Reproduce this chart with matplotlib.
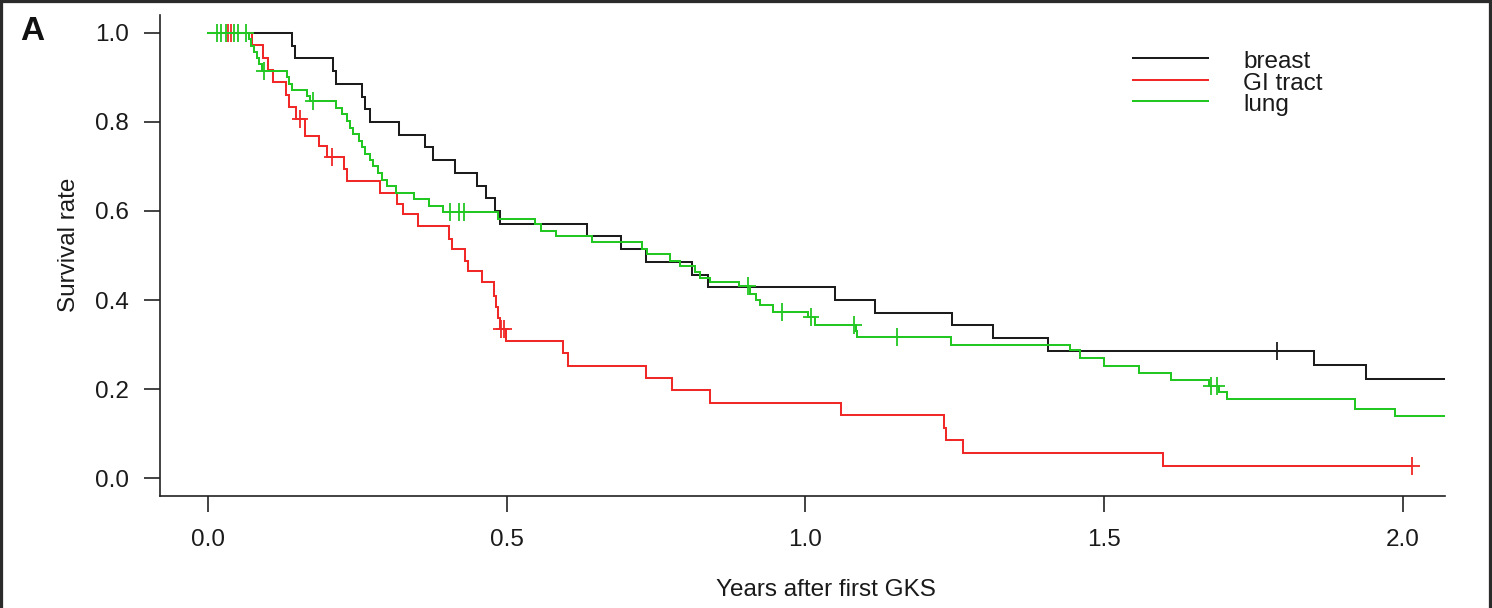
import numpy as np
import matplotlib
matplotlib.use("Agg")
import matplotlib.pyplot as plt
from matplotlib.path import Path
from matplotlib.lines import Line2D

# ---------------- data ----------------
groups = ["breast", "GI tract", "lung"]
colors = ["#1c1c1c", "#f02828", "#22c722"]

breast_times = [0.140, 0.146, 0.210, 0.215, 0.257, 0.263, 0.271, 0.319, 0.363, 0.377,
                0.413, 0.450, 0.466, 0.480, 0.489, 0.634, 0.692, 0.733, 0.810, 0.837,
                1.049, 1.116, 1.246, 1.313, 1.406, 1.851, 1.938]
breast_surv = [0.971, 0.943, 0.914, 0.886, 0.857, 0.829, 0.800, 0.771, 0.743, 0.714,
               0.686, 0.657, 0.629, 0.600, 0.571, 0.543, 0.514, 0.486, 0.457, 0.429,
               0.400, 0.371, 0.343, 0.314, 0.286, 0.254, 0.222]
breast_censor = [1.789]
breast_end = 2.08

gi_times = [0.073, 0.092, 0.100, 0.108, 0.130, 0.135, 0.147, 0.162, 0.185, 0.199,
            0.228, 0.232, 0.288, 0.316, 0.327, 0.352, 0.404, 0.408, 0.430, 0.436,
            0.458, 0.479, 0.482, 0.485, 0.488, 0.499, 0.595, 0.603, 0.733, 0.777,
            0.840, 1.060, 1.231, 1.236, 1.264, 1.598]
gi_surv = [0.972, 0.944, 0.917, 0.889, 0.861, 0.833, 0.806, 0.768, 0.745, 0.722,
           0.694, 0.667, 0.641, 0.615, 0.593, 0.567, 0.537, 0.515, 0.488, 0.466,
           0.440, 0.410, 0.385, 0.360, 0.336, 0.308, 0.280, 0.253, 0.225, 0.198,
           0.169, 0.142, 0.112, 0.086, 0.056, 0.028]
gi_censor = [0.034, 0.038, 0.154, 0.207, 0.490, 0.495, 2.015]
gi_end = 2.015

lung_times = [0.068, 0.072, 0.077, 0.082, 0.086, 0.090, 0.132, 0.135, 0.140, 0.165,
              0.170, 0.215, 0.224, 0.232, 0.238, 0.243, 0.252, 0.257, 0.263, 0.271,
              0.277, 0.285, 0.291, 0.299, 0.315, 0.345, 0.370, 0.394, 0.486, 0.547,
              0.557, 0.583, 0.642, 0.726, 0.735, 0.773, 0.790, 0.815, 0.823, 0.840,
              0.888, 0.907, 0.918, 0.924, 0.946, 1.005, 1.016, 1.084, 1.086, 1.243,
              1.443, 1.459, 1.500, 1.558, 1.611, 1.675, 1.692, 1.705, 1.919, 1.987]
lung_surv = [0.986, 0.971, 0.957, 0.943, 0.929, 0.914, 0.900, 0.886, 0.872, 0.858,
             0.846, 0.831, 0.817, 0.802, 0.787, 0.773, 0.758, 0.744, 0.729, 0.714,
             0.700, 0.685, 0.670, 0.656, 0.641, 0.626, 0.612, 0.597, 0.583, 0.570,
             0.555, 0.543, 0.530, 0.515, 0.503, 0.488, 0.477, 0.462, 0.450, 0.440,
             0.431, 0.414, 0.401, 0.388, 0.374, 0.362, 0.345, 0.331, 0.317, 0.300,
             0.287, 0.270, 0.253, 0.237, 0.221, 0.208, 0.193, 0.178, 0.156, 0.139]
lung_censor = [0.015, 0.022, 0.030, 0.044, 0.050, 0.063, 0.093, 0.176, 0.405, 0.420,
               0.428, 0.904, 0.960, 1.010, 1.082, 1.153, 1.679, 1.688]
lung_end = 2.08

x_ticks = [0.0, 0.5, 1.0, 1.5, 2.0]
x_ticklabels = ["0.0", "0.5", "1.0", "1.5", "2.0"]
y_ticks = [0.0, 0.2, 0.4, 0.6, 0.8, 1.0]
y_ticklabels = ["0.0", "0.2", "0.4", "0.6", "0.8", "1.0"]
x_label = "Years after first GKS"
y_label = "Survival rate"
panel_label = "A"

# ---------------- figure ----------------
plt.rcParams["font.family"] = ["Liberation Sans", "DejaVu Sans"]
FS = 17.5
W, H = 1492, 608
fig = plt.figure(figsize=(W / 100, H / 100), dpi=100)
fig.patch.set_facecolor("white")

ax_l, ax_r, ax_b, ax_t = 160, 1445, 496, 15
ax = fig.add_axes([ax_l / W, 1 - ax_b / H, (ax_r - ax_l) / W, (ax_b - ax_t) / H])

cross = Path([(-0.44, 0), (0.44, 0), (0, -0.5), (0, 0.5)],
             [Path.MOVETO, Path.LINETO, Path.MOVETO, Path.LINETO])

series = [
    (breast_times, breast_surv, breast_censor, breast_end),
    (gi_times, gi_surv, gi_censor, gi_end),
    (lung_times, lung_surv, lung_censor, lung_end),
]
for (times, surv, cens, tend), col in zip(series, colors):
    t = np.concatenate([[0.0], times, [tend]])
    s = np.concatenate([[1.0], surv, [surv[-1]]])
    ax.step(t, s, where="post", color=col, lw=1.45, solid_joinstyle="miter")
    lev = np.concatenate([[1.0], surv])
    idx = np.searchsorted(np.asarray(times), np.asarray(cens), side="right")
    ax.plot(cens, lev[idx], linestyle="none", marker=cross, markersize=12.5,
            markeredgewidth=1.3, color=col)

ax.set_xlim(-0.0803, 2.0703)
ax.set_ylim(-0.04, 1.04)
ax.set_xticks(x_ticks)
ax.set_xticklabels(x_ticklabels)
ax.set_yticks(y_ticks)
ax.set_yticklabels(y_ticklabels)
for sp in ["top", "right"]:
    ax.spines[sp].set_visible(False)
for sp in ["left", "bottom"]:
    ax.spines[sp].set_linewidth(1.2)
    ax.spines[sp].set_color("#222222")
ax.tick_params(axis="both", direction="out", length=11.5, width=1.2,
               color="#222222", labelsize=FS, labelcolor="#1a1a1a")
ax.tick_params(axis="x", pad=12)
ax.tick_params(axis="y", pad=11)
ax.patch.set_alpha(0)

# axis labels
fig.text(826 / W, 1 - 590 / H, x_label, ha="center", va="center", fontsize=FS, color="#1a1a1a")
fig.text(69 / W, 1 - 245 / H, y_label, ha="center", va="center", rotation=90,
         fontsize=FS, color="#1a1a1a")
fig.text(20 / W, 1 - 40 / H, panel_label, ha="left", va="baseline", fontsize=24,
         fontweight="bold", color="#111111")

# legend
leg_y = [58, 80, 101]
for g, col, yy in zip(groups, colors, leg_y):
    fig.add_artist(Line2D([1133 / W, 1208 / W], [1 - yy / H, 1 - yy / H],
                          transform=fig.transFigure, color=col, lw=1.45))
    fig.text(1243 / W, 1 - (yy + 10) / H, g, ha="left", va="baseline",
             fontsize=FS, color="#1a1a1a")

# screenshot frame (top, left, right)
for xs, ys in [([0, 1], [1, 1]), ([0, 0], [0, 1]), ([1, 1], [0, 1])]:
    fig.add_artist(Line2D(xs, ys, transform=fig.transFigure, color="#2b2b2b", lw=4.5))

fig.savefig("out.png", dpi=100, facecolor="white")
